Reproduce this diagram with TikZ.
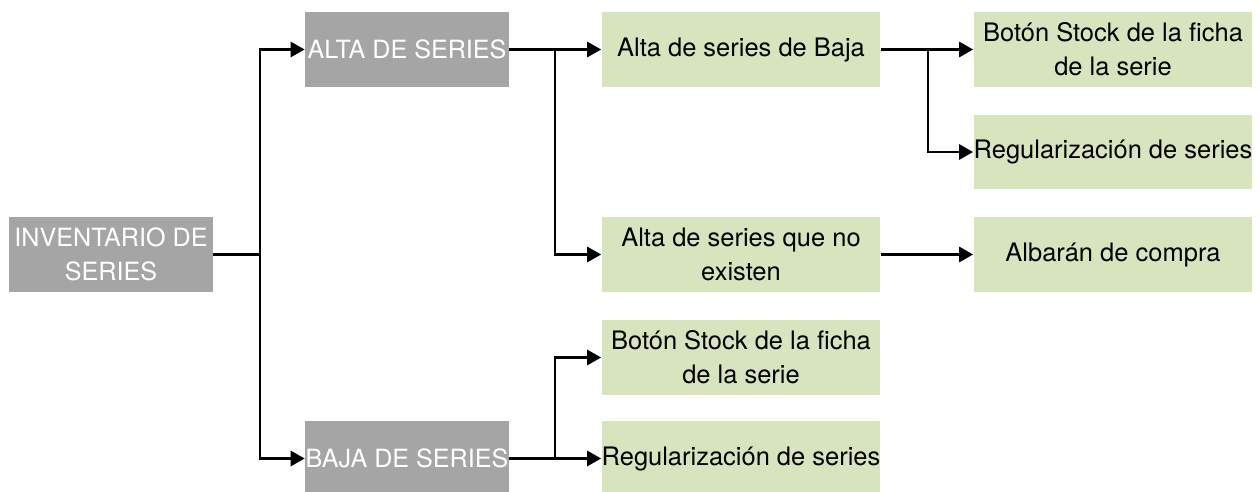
\documentclass[tikz,border=0pt]{standalone}
\usepackage{fontspec}
\setmainfont{TeX Gyre Heros}
\usetikzlibrary{arrows.meta}
\definecolor{boxgray}{HTML}{A5A5A5}
\definecolor{boxgreen}{HTML}{D7E4BD}

\begin{document}
\begin{tikzpicture}[x=0.02cm, y=-0.02cm,
		graybox/.style={fill=boxgray, text=white, minimum width=4.08cm, minimum height=1.5cm, inner sep=0pt, align=center, font=\fontsize{14.3}{19}\selectfont},
		greenbox/.style={fill=boxgreen, text=black, minimum width=5.58cm, minimum height=1.5cm, inner sep=0pt, align=center, font=\fontsize{14.5}{19.5}\selectfont},
		link/.style={line width=1.6pt},
		arrowlink/.style={link, -{Triangle[length=0.28cm, width=0.3cm]}}]
		%%%%% START %%%%%
		\useasboundingbox (0, 0) rectangle (1260, 492);
		
		\node[graybox] (inv) at (111, 254.5) {INVENTARIO DE\\SERIES};
		\node[graybox] (alta) at (407, 49.5) {ALTA DE SERIES};
		\node[graybox] (baja) at (407, 458.5) {BAJA DE SERIES};
		
		\node[greenbox] (altabaja) at (741, 49.5) {Alta de series de Baja};
		\node[greenbox] (altanoex) at (741, 254.5) {Alta de series que no\\existen};
		\node[greenbox] (bajastock) at (741, 357.5) {Botón Stock de la ficha\\de la serie};
		\node[greenbox] (bajareg) at (741, 458.5) {Regularización de series};
		
		\node[greenbox] (altastock) at (1113, 49.5) {Botón Stock de la ficha\\de la serie};
		\node[greenbox] (altareg) at (1113, 152) {Regularización de series};
		\node[greenbox] (albaran) at (1113, 254.5) {Albarán de compra};
		
		\coordinate (j1) at (260, 254.5);
		\coordinate (j2) at (555, 49.5);
		\coordinate (j3) at (928, 49.5);
		\coordinate (j4) at (555, 458.5);
		
		\draw[link] (inv.east) -- (j1);
		\draw[arrowlink] (j1) |- (alta.west);
		\draw[arrowlink] (j1) |- (baja.west);
		
		\draw[link] (alta.east) -- (j2);
		\draw[arrowlink] (j2) -- (altabaja.west);
		\draw[arrowlink] (j2) |- (altanoex.west);
		
		\draw[link] (altabaja.east) -- (j3);
		\draw[arrowlink] (j3) -- (altastock.west);
		\draw[arrowlink] (j3) |- (altareg.west);
		
		\draw[arrowlink] (altanoex.east) -- (albaran.west);
		
		\draw[link] (baja.east) -- (j4);
		\draw[arrowlink] (j4) -- (bajareg.west);
		\draw[arrowlink] (j4) |- (bajastock.west);
		%%%%% END %%%%%
	\end{tikzpicture}
\end{document}
